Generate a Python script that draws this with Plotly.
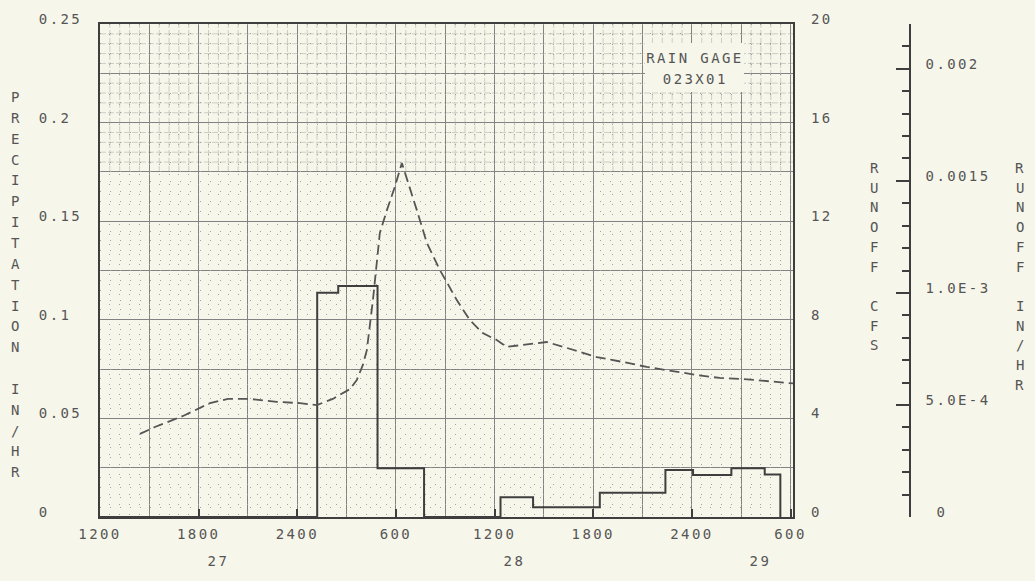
import plotly.graph_objects as go

# ---------------- data ----------------
# hours after 1200 on day 27
precip_hours = [0.0, 13.21, 14.49, 16.88, 19.71, 24.36, 26.34, 30.40, 34.39, 36.07, 38.40, 40.43, 41.38]
precip_in_hr = [0.0, 0.1137, 0.1171, 0.0247, 0.0, 0.0100, 0.0049, 0.0123, 0.0238, 0.0213, 0.0247, 0.0216, 0.0]

runoff_hours = [2.43, 3.34, 5.05, 6.69, 7.78, 9.12, 10.76, 12.16, 13.19, 14.16, 15.20, 15.62,
                15.99, 16.23, 16.60, 17.02, 17.45, 17.93, 18.36, 18.54, 19.27, 19.88, 20.67,
                21.09, 21.70, 22.49, 23.28, 24.13, 24.74, 25.71, 27.17, 28.39, 30.21, 31.79,
                33.25, 34.83, 36.29, 37.69, 39.09, 42.15]
runoff_cfs = [3.37, 3.65, 4.10, 4.62, 4.79, 4.79, 4.67, 4.62, 4.54, 4.79, 5.19, 5.56,
              6.17, 6.77, 8.80, 11.52, 12.45, 13.39, 14.36, 14.00, 12.45, 11.12, 10.02,
              9.53, 8.80, 7.99, 7.46, 7.18, 6.90, 6.98, 7.10, 6.86, 6.49, 6.29,
              6.09, 5.92, 5.76, 5.64, 5.60, 5.42]

hour_tick_vals = [0, 6, 12, 18, 24, 30, 36, 42]
hour_tick_labels = ["1200", "1800", "2400", "600", "1200", "1800", "2400", "600"]
day_labels = ["27", "28", "29"]
day_label_hours = [7.2, 25.2, 40.2]

precip_tick_vals = [0, 0.05, 0.1, 0.15, 0.2, 0.25]
precip_tick_labels = ["0", "0.05", "0.1", "0.15", "0.2", "0.25"]
cfs_tick_vals = [0, 4, 8, 12, 16, 20]
cfs_tick_labels = ["0", "4", "8", "12", "16", "20"]
inhr_tick_vals = [0, 0.0005, 0.001, 0.0015, 0.002]
inhr_tick_labels = ["0", "5.0E-4", "1.0E-3", "0.0015", "0.002"]

gage_lines = ["RAIN GAGE", "023X01"]
left_title = "PRECIPITATION IN/HR"
right_title_cfs = "RUNOFF CFS"
right_title_inhr = "RUNOFF IN/HR"

# ---------------- layout geometry / style ----------------
W, H = 1035, 581
ML, MR, MT, MB = 100, 35, 24, 64
PW, PH = W - ML - MR, H - MT - MB
PLOT_RIGHT = 793
X_END = 42.15
Y_END = 0.25

BG = "#f7f6ea"
INK = "#3e3e3e"
TXT = "#555555"
GRID = "#828282"
MINOR = "#a2a2a2"
FINE = "#cdcdc6"
FONT = dict(family="DejaVu Sans Mono", size=14, color=TXT)


def px_x(px):
    return (px - ML) / PW


def px_y(py):
    return (H - MB - py) / PH


NB = "\u00a0"
left_ticktext = [t + NB * (4 - len(t)) for t in precip_tick_labels]
inhr_ticktext = [(NB + t) if len(t) == 1 else t for t in inhr_tick_labels]

fig = go.Figure()
fig.add_trace(go.Scatter(x=precip_hours, y=precip_in_hr, mode="lines",
                         line=dict(shape="hv", color=INK, width=2),
                         xaxis="x", yaxis="y", hoverinfo="skip"))
fig.add_trace(go.Scatter(x=runoff_hours, y=runoff_cfs, mode="lines",
                         line=dict(color="#555555", width=1.8, dash="10px,5px"),
                         xaxis="x2", yaxis="y2", hoverinfo="skip"))
fig.add_trace(go.Scatter(x=[], y=[], mode="lines", xaxis="x2", yaxis="y3", hoverinfo="skip"))

xd = px_x(PLOT_RIGHT)
DOTS = "1px,9px"

fig.update_layout(
    width=W, height=H,
    margin=dict(l=ML, r=MR, t=MT, b=MB, pad=0),
    paper_bgcolor=BG, plot_bgcolor=BG,
    showlegend=False,
    font=FONT,
    xaxis=dict(domain=[0, xd], range=[0, X_END], tickmode="array",
               tickvals=hour_tick_vals, ticktext=hour_tick_labels,
               ticks="inside", ticklen=8, tickwidth=2, tickcolor=INK,
               showgrid=True, gridcolor=GRID, gridwidth=1,
               minor=dict(tick0=0, dtick=3, showgrid=True, gridcolor=GRID, gridwidth=1, ticks=""),
               showline=True, linecolor=INK, linewidth=2, mirror=True,
               zeroline=False, tickfont=FONT, ticklabelstandoff=3),
    xaxis2=dict(overlaying="x", anchor="y", range=[0, X_END], tickmode="linear",
                tick0=0, dtick=0.6, showticklabels=False, ticks="",
                showgrid=True, gridcolor=MINOR, gridwidth=1, griddash=DOTS,
                showline=False, zeroline=False),
    yaxis=dict(range=[0, Y_END], tickmode="array", tickvals=precip_tick_vals,
               ticktext=left_ticktext, ticks="",
               showgrid=True, gridcolor=GRID, gridwidth=1,
               minor=dict(tick0=0, dtick=0.025, showgrid=True, gridcolor=GRID, gridwidth=1, ticks=""),
               showline=True, linecolor=INK, linewidth=2, mirror=True,
               zeroline=False, tickfont=FONT, ticklabelstandoff=13, ticklabelshift=-5),
    yaxis2=dict(overlaying="y", side="right", anchor="x2", range=[0, 20],
                tickmode="array", tickvals=cfs_tick_vals, ticktext=cfs_tick_labels,
                ticks="", showgrid=False,
                minor=dict(tick0=0, dtick=0.4, showgrid=True, gridcolor=MINOR,
                           gridwidth=1, griddash=DOTS, ticks=""),
                showline=False, zeroline=False, tickfont=FONT,
                ticklabelstandoff=17, ticklabelshift=-5),
    yaxis3=dict(overlaying="y", anchor="free", position=px_x(910), side="right",
                range=[0, 0.0022], tickmode="array", tickvals=inhr_tick_vals,
                ticktext=inhr_ticktext, ticks="inside", ticklen=13, tickwidth=1.5,
                tickcolor=INK,
                minor=dict(tick0=0, dtick=0.0001, ticks="inside", ticklen=7,
                           tickwidth=1.5, tickcolor=INK, showgrid=False),
                showgrid=False, showline=True, linecolor=INK, linewidth=1.5,
                zeroline=False, tickfont=FONT, ticklabelstandoff=12, ticklabelshift=-5),
)

# fine graph-paper ruling in the upper band of the chart paper
band_lo = 0.175
fine_line = dict(color=FINE, width=1, dash="6px,2px")
shapes = []
k = 1
while k * 0.6 < X_END - 1e-9:
    xv = k * 0.6
    if abs(xv / 3 - round(xv / 3)) > 1e-6:
        shapes.append(dict(type="line", xref="x", yref="y", x0=xv, x1=xv, y0=band_lo, y1=Y_END,
                           line=fine_line, layer="below"))
    k += 1
k = 1
while band_lo + k * 0.005 < Y_END - 1e-9:
    yv = band_lo + k * 0.005
    if abs(yv / 0.025 - round(yv / 0.025)) > 1e-6:
        shapes.append(dict(type="line", xref="x", yref="y", x0=0, x1=X_END, y0=yv, y1=yv,
                           line=fine_line, layer="below"))
    k += 1

shapes.append(dict(type="rect", xref="paper", yref="paper",
                   x0=px_x(645), x1=px_x(744), y0=px_y(92), y1=px_y(43),
                   fillcolor=BG, line=dict(width=0), layer="above"))

annotations = []


def stacked(title, xpx, ytop, step):
    for i, ch in enumerate(title):
        if ch == " ":
            continue
        annotations.append(dict(text=ch, x=px_x(xpx), y=px_y(ytop + i * step),
                                xref="paper", yref="paper", showarrow=False,
                                xanchor="center", yanchor="middle", font=FONT))


stacked(left_title, 15, 97, 20.85)
stacked(right_title_cfs, 874, 168, 19.7)
stacked(right_title_inhr, 1020, 168, 19.7)

for lab, hx in zip(day_labels, day_label_hours):
    annotations.append(dict(text=lab, x=hx, y=px_y(561), xref="x", yref="paper",
                            showarrow=False, xanchor="center", yanchor="middle", font=FONT))

for i, line in enumerate(gage_lines):
    annotations.append(dict(text=line, x=px_x(695), y=px_y(58 + i * 21), xref="paper",
                            yref="paper", showarrow=False, xanchor="center",
                            yanchor="middle", font=FONT))

fig.update_layout(annotations=annotations, shapes=shapes)

post = """
document.body.style.margin = '0';
document.body.style.padding = '0';
var gd = document.getElementById('{plot_id}');
gd.querySelectorAll('text').forEach(function(t){
  if ((t.textContent || '').length > 1) { t.style.letterSpacing = '2.4px'; }
});
"""
fig.write_html("out.html", post_script=post, config={"displayModeBar": False})
